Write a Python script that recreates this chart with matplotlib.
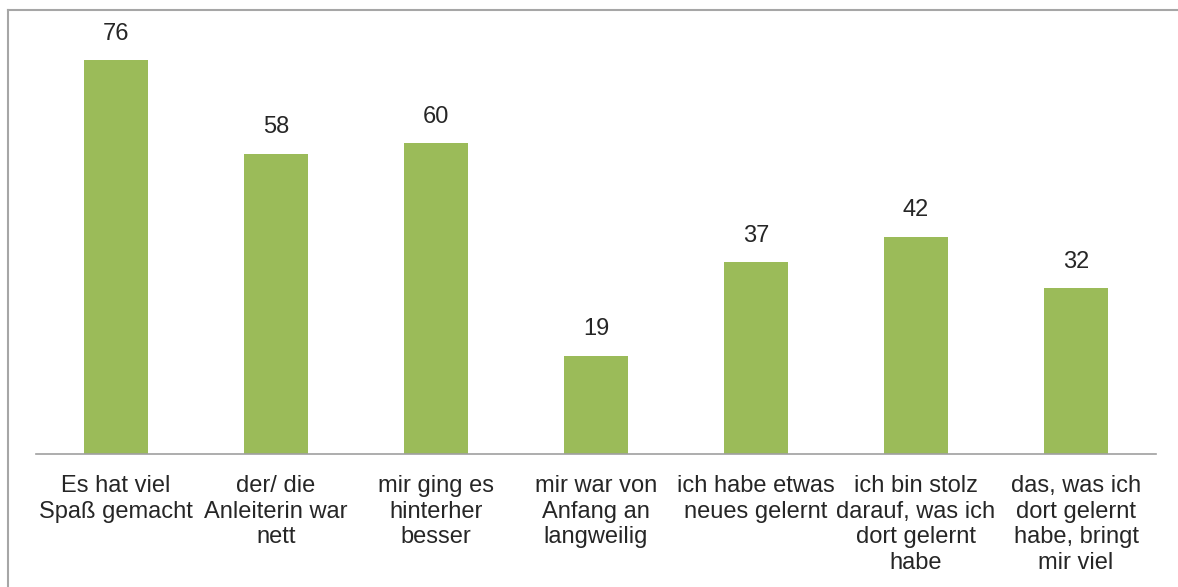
import matplotlib.pyplot as plt
from matplotlib.lines import Line2D

plt.rcParams['font.family'] = ['Liberation Sans', 'DejaVu Sans']

labels = [
    "Es hat viel\nSpaß gemacht",
    "der/ die\nAnleiterin war\nnett",
    "mir ging es\nhinterher\nbesser",
    "mir war von\nAnfang an\nlangweilig",
    "ich habe etwas\nneues gelernt",
    "ich bin stolz\ndarauf, was ich\ndort gelernt\nhabe",
    "das, was ich\ndort gelernt\nhabe, bringt\nmir viel",
]
values = [76, 58, 60, 19, 37, 42, 32]

W, H = 1178, 587
fig = plt.figure(figsize=(W / 100, H / 100), dpi=100)
ax = fig.add_axes([36 / W, 1 - 454 / H, 1120 / W, (454 - 19) / H])

x = list(range(len(values)))
ax.bar(x, values, width=0.4, color="#9BBB59", zorder=2)
ax.set_xlim(-0.5, len(values) - 0.5)
ax.set_ylim(0, 84)

for xi, v in zip(x, values):
    ax.text(xi, v + 3, str(v), ha="center", va="bottom", fontsize=17, color="#262626")

for s in ["top", "right", "left"]:
    ax.spines[s].set_visible(False)
ax.spines["bottom"].set_color("#A0A0A0")
ax.spines["bottom"].set_linewidth(1.2)
ax.set_yticks([])
ax.set_xticks(x)
ax.set_xticklabels(labels, fontsize=17, color="#262626", linespacing=1.22)
ax.tick_params(axis="x", length=0, pad=15)

# outer chart frame (left and top edges visible)
fig.add_artist(Line2D([8 / W, 8 / W], [0, 1 - 10 / H], color="#A6A6A6", lw=1.5))
fig.add_artist(Line2D([8 / W, 1], [1 - 10 / H, 1 - 10 / H], color="#A6A6A6", lw=1.5))

fig.savefig("out.png", dpi=100)
